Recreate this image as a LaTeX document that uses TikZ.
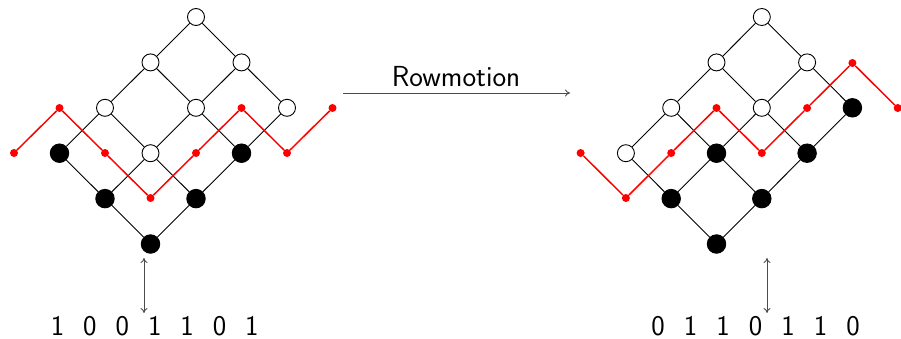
\documentclass[tikz,border=0pt]{standalone}
\usetikzlibrary{arrows.meta}
\begin{document}
\begin{tikzpicture}[x=1pt,y=-1pt,
  opennd/.style={circle,draw=black,fill=white,line width=0.9pt,minimum size=17pt,inner sep=0pt},
  fullnd/.style={circle,draw=black,fill=black,line width=0.9pt,minimum size=18.5pt,inner sep=0pt},
  reddot/.style={circle,fill=red,minimum size=8pt,inner sep=0pt},
  edge/.style={draw=black,line width=0.9pt},
  redpath/.style={draw=red,line width=1.5pt},
  garrow/.style={draw=black!70,line width=0.9pt,-{To[length=5pt,width=7pt]}},
  gdarrow/.style={draw=black!70,line width=0.9pt,{To[length=5pt,width=7pt]}-{To[length=5pt,width=7pt]}},
  digit/.style={font=\sffamily\fontsize{28.5}{32}\selectfont,anchor=base,inner sep=0pt},
  title/.style={font=\sffamily\fontsize{29}{32}\selectfont,anchor=base,inner sep=0pt}]
\useasboundingbox (0,0) rectangle (901,338);

% ---------- left poset ----------
\foreach \i/\j/\st in {0/0/fullnd,1/0/fullnd,2/0/fullnd,0/1/fullnd,1/1/opennd,2/1/opennd,
                       0/2/fullnd,1/2/opennd,2/2/opennd,0/3/opennd,1/3/opennd,2/3/opennd}
  \node[\st] (L\i\j) at ({150.5-45.5*\i+45.5*\j},{244-45.4*\i-45.4*\j}) {};
\foreach \i in {0,1,2}{
  \foreach \j in {0,1,2}{
    \pgfmathtruncatemacro{\jj}{\j+1}
    \draw[edge] (L\i\j) -- (L\i\jj);
  }}
\foreach \i in {0,1}{
  \foreach \j in {0,1,2,3}{
    \pgfmathtruncatemacro{\ii}{\i+1}
    \draw[edge] (L\i\j) -- (L\ii\j);
  }}
% left red path
\foreach \k/\y in {0/153,1/108,2/153,3/198,4/153,5/108,6/153,7/108}
  \node[reddot] (LR\k) at ({14+45.5*\k},\y) {};
\draw[redpath] (LR0) -- (LR1) -- (LR2) -- (LR3) -- (LR4) -- (LR5) -- (LR6) -- (LR7);

% ---------- right poset ----------
\foreach \i/\j/\st in {0/0/fullnd,1/0/fullnd,2/0/opennd,0/1/fullnd,1/1/fullnd,2/1/opennd,
                       0/2/fullnd,1/2/opennd,2/2/opennd,0/3/fullnd,1/3/opennd,2/3/opennd}
  \node[\st] (R\i\j) at ({716.5-45.3*\i+45.3*\j},{244-45.4*\i-45.4*\j}) {};
\foreach \i in {0,1,2}{
  \foreach \j in {0,1,2}{
    \pgfmathtruncatemacro{\jj}{\j+1}
    \draw[edge] (R\i\j) -- (R\i\jj);
  }}
\foreach \i in {0,1}{
  \foreach \j in {0,1,2,3}{
    \pgfmathtruncatemacro{\ii}{\i+1}
    \draw[edge] (R\i\j) -- (R\ii\j);
  }}
% right red path
\foreach \k/\y in {0/153,1/198,2/153,3/108,4/153,5/108,6/63,7/108}
  \node[reddot] (RR\k) at ({580.6+45.3*\k},\y) {};
\draw[redpath] (RR0) -- (RR1) -- (RR2) -- (RR3) -- (RR4) -- (RR5) -- (RR6) -- (RR7);

% ---------- rowmotion arrow ----------
\coordinate (rowA) at (343,93);
\coordinate (rowB) at (570,93);
\draw[garrow] (rowA) -- (rowB);
\node[title] (rowlab) at (456,86) {Rowmotion};

% ---------- vertical double arrows ----------
\coordinate (la1) at (144,258);
\coordinate (la2) at (144,313);
\draw[gdarrow] (la1) -- (la2);
\coordinate (ra1) at (767,258);
\coordinate (ra2) at (767,313);
\draw[gdarrow] (ra1) -- (ra2);

% ---------- bit strings ----------
\foreach \d [count=\c from 0] in {1,0,0,1,1,0,1}
  \node[digit] (ld\c) at ({57.5+32.4*\c},335) {\d};
\foreach \d [count=\c from 0] in {0,1,1,0,1,1,0}
  \node[digit] (rd\c) at ({658+32.5*\c},335) {\d};
\end{tikzpicture}
\end{document}
